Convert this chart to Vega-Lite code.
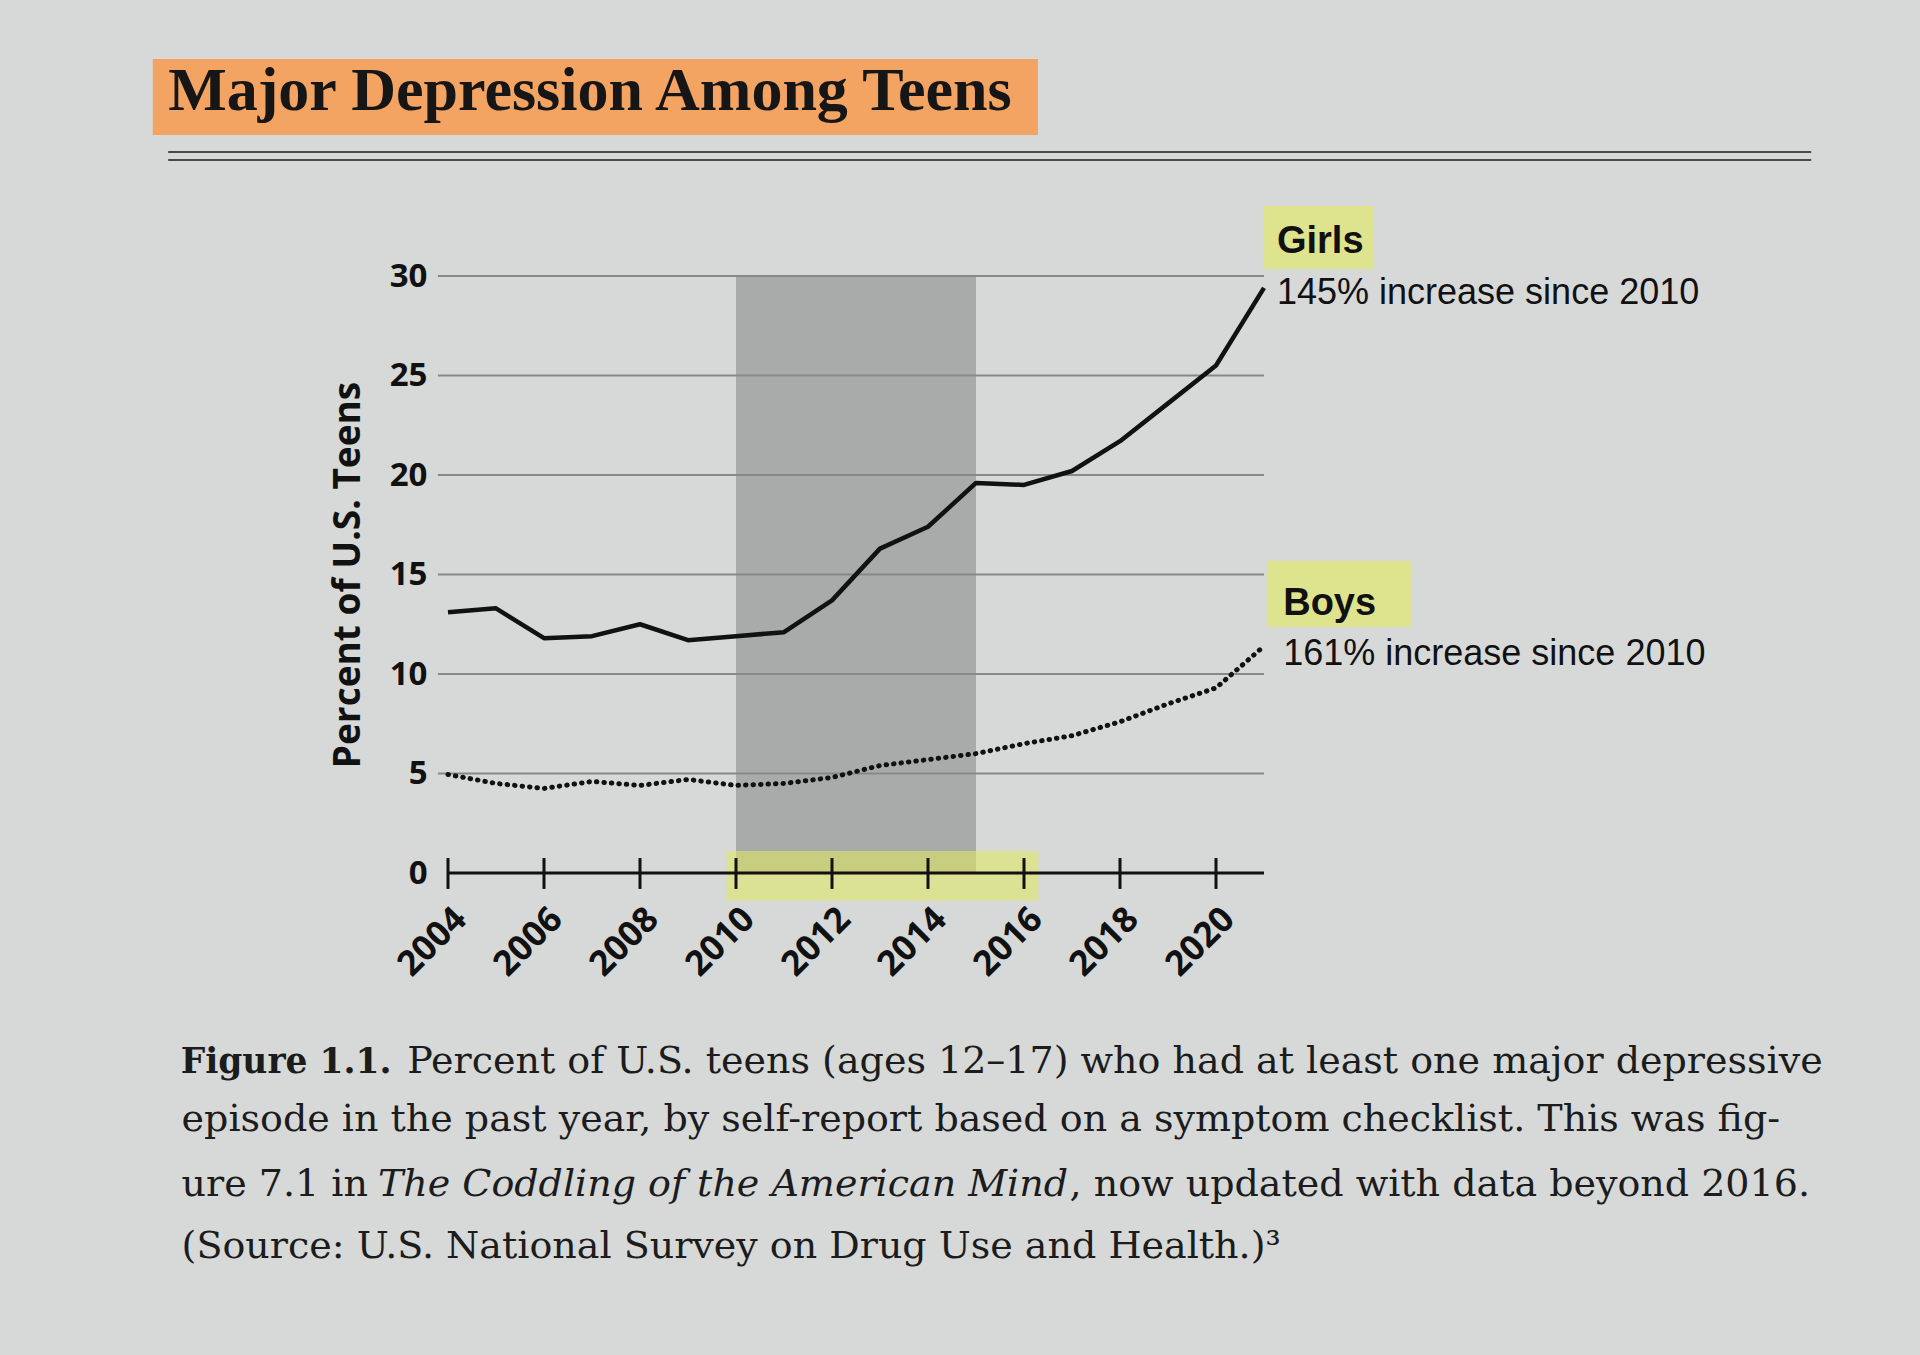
{
  "$schema": "https://vega.github.io/schema/vega-lite/v6.json",
  "autosize": "none",
  "width": 816,
  "height": 597,
  "padding": {"left": 448, "top": 276, "right": 656, "bottom": 482},
  "background": "#d6d9d8",
  "config": {"view": {"stroke": null}},
  "data": {"values": [{}]},
  "datasets": {
    "series": [
      {"year": 2004, "group": "Girls", "value": 13.1},
      {"year": 2005, "group": "Girls", "value": 13.3},
      {"year": 2006, "group": "Girls", "value": 11.8},
      {"year": 2007, "group": "Girls", "value": 11.9},
      {"year": 2008, "group": "Girls", "value": 12.5},
      {"year": 2009, "group": "Girls", "value": 11.7},
      {"year": 2010, "group": "Girls", "value": 11.9},
      {"year": 2011, "group": "Girls", "value": 12.1},
      {"year": 2012, "group": "Girls", "value": 13.7},
      {"year": 2013, "group": "Girls", "value": 16.3},
      {"year": 2014, "group": "Girls", "value": 17.4},
      {"year": 2015, "group": "Girls", "value": 19.6},
      {"year": 2016, "group": "Girls", "value": 19.5},
      {"year": 2017, "group": "Girls", "value": 20.2},
      {"year": 2018, "group": "Girls", "value": 21.7},
      {"year": 2019, "group": "Girls", "value": 23.6},
      {"year": 2020, "group": "Girls", "value": 25.5},
      {"year": 2021, "group": "Girls", "value": 29.4},
      {"year": 2004, "group": "Boys", "value": 4.95},
      {"year": 2005, "group": "Boys", "value": 4.5},
      {"year": 2006, "group": "Boys", "value": 4.25},
      {"year": 2007, "group": "Boys", "value": 4.6},
      {"year": 2008, "group": "Boys", "value": 4.4},
      {"year": 2009, "group": "Boys", "value": 4.7},
      {"year": 2010, "group": "Boys", "value": 4.4},
      {"year": 2011, "group": "Boys", "value": 4.5},
      {"year": 2012, "group": "Boys", "value": 4.8},
      {"year": 2013, "group": "Boys", "value": 5.4},
      {"year": 2014, "group": "Boys", "value": 5.7},
      {"year": 2015, "group": "Boys", "value": 6.0},
      {"year": 2016, "group": "Boys", "value": 6.5},
      {"year": 2017, "group": "Boys", "value": 6.9},
      {"year": 2018, "group": "Boys", "value": 7.6},
      {"year": 2019, "group": "Boys", "value": 8.5},
      {"year": 2020, "group": "Boys", "value": 9.3},
      {"year": 2021, "group": "Boys", "value": 11.4}
    ],
    "grid": [{"v": 5}, {"v": 10}, {"v": 15}, {"v": 20}, {"v": 25}, {"v": 30}],
    "ticks": [{"year": 2004}, {"year": 2006}, {"year": 2008}, {"year": 2010}, {"year": 2012}, {"year": 2014}, {"year": 2016}, {"year": 2018}, {"year": 2020}]
  },
  "layer": [
    {
      "mark": {"type": "rect", "color": "#f69f58", "opacity": 0.92},
      "encoding": {
        "x": {"datum": 1997.85, "type": "quantitative", "scale": {"domain": [2004, 2021], "nice": false, "zero": false}},
        "x2": {"datum": 2016.29},
        "y": {"datum": 40.9, "type": "quantitative", "scale": {"domain": [0, 30], "nice": false}},
        "y2": {"datum": 37.09}
      }
    },
    {
      "mark": {"type": "text", "text": "Major Depression Among Teens", "font": "Liberation Serif", "fontWeight": "bold", "fontSize": 62, "align": "left", "baseline": "alphabetic", "color": "#161616"},
      "encoding": {"x": {"datum": 1998.17, "type": "quantitative"}, "y": {"datum": 38.34, "type": "quantitative"}}
    },
    {
      "mark": {"type": "rule", "color": "#4a4a4a", "strokeWidth": 2.2},
      "encoding": {"x": {"datum": 1998.17, "type": "quantitative"}, "x2": {"datum": 2032.4}, "y": {"datum": 36.23, "type": "quantitative"}}
    },
    {
      "mark": {"type": "rule", "color": "#4a4a4a", "strokeWidth": 2.2},
      "encoding": {"x": {"datum": 1998.17, "type": "quantitative"}, "x2": {"datum": 2032.4}, "y": {"datum": 35.83, "type": "quantitative"}}
    },
    {
      "mark": {"type": "rect", "color": "#a4a5a5", "opacity": 0.9},
      "encoding": {"x": {"datum": 2010, "type": "quantitative"}, "x2": {"datum": 2015}, "y": {"datum": 0, "type": "quantitative"}, "y2": {"datum": 30}}
    },
    {
      "mark": {"type": "rect", "color": "#e2ea5c", "opacity": 0.55},
      "encoding": {"x": {"datum": 2009.8, "type": "quantitative"}, "x2": {"datum": 2016.3}, "y": {"datum": 1.1, "type": "quantitative"}, "y2": {"datum": -1.4}}
    },
    {
      "data": {"name": "grid"},
      "mark": {"type": "rule", "color": "#878989", "strokeWidth": 2},
      "encoding": {"x": {"datum": 2003.79, "type": "quantitative"}, "x2": {"datum": 2021}, "y": {"field": "v", "type": "quantitative"}}
    },
    {
      "mark": {"type": "rule", "color": "#111111", "strokeWidth": 3},
      "encoding": {"x": {"datum": 2004, "type": "quantitative"}, "x2": {"datum": 2021}, "y": {"datum": 0, "type": "quantitative"}}
    },
    {
      "data": {"name": "ticks"},
      "mark": {"type": "rule", "color": "#111111", "strokeWidth": 3},
      "encoding": {"x": {"field": "year", "type": "quantitative"}, "y": {"datum": 0.75, "type": "quantitative"}, "y2": {"datum": -0.8}}
    },
    {
      "data": {"name": "series"},
      "transform": [{"filter": "datum.group === 'Girls'"}],
      "mark": {"type": "line", "color": "#111111", "strokeWidth": 4.5, "strokeJoin": "round"},
      "encoding": {
        "x": {"field": "year", "type": "quantitative", "axis": {"values": [2004, 2006, 2008, 2010, 2012, 2014, 2016, 2018, 2020], "format": "d", "labelAngle": -45, "labelFont": "Open Sans", "labelFontWeight": "bold", "labelFontSize": 35, "labelColor": "#111111", "labelPadding": 28, "domain": false, "ticks": false, "grid": false, "title": null}},
        "y": {"field": "value", "type": "quantitative", "axis": {"values": [0, 5, 10, 15, 20, 25, 30], "labelFont": "Open Sans", "labelFontWeight": "bold", "labelFontSize": 33, "labelColor": "#111111", "labelPadding": 21, "domain": false, "ticks": false, "grid": false, "title": "Percent of U.S. Teens", "titleFont": "Open Sans", "titleFontWeight": "bold", "titleFontSize": 37, "titleColor": "#111111", "titlePadding": 22}}
      }
    },
    {
      "data": {"name": "series"},
      "transform": [{"filter": "datum.group === 'Boys'"}],
      "mark": {"type": "line", "color": "#111111", "strokeWidth": 5, "strokeCap": "round", "strokeDash": [0.5, 7]},
      "encoding": {"x": {"field": "year", "type": "quantitative"}, "y": {"field": "value", "type": "quantitative"}}
    },
    {
      "mark": {"type": "rect", "color": "#e2ea5c", "opacity": 0.6},
      "encoding": {"x": {"datum": 2021.0, "type": "quantitative"}, "x2": {"datum": 2023.29}, "y": {"datum": 33.52, "type": "quantitative"}, "y2": {"datum": 30.35}}
    },
    {
      "mark": {"type": "rect", "color": "#e2ea5c", "opacity": 0.6},
      "encoding": {"x": {"datum": 2021.06, "type": "quantitative"}, "x2": {"datum": 2024.06}, "y": {"datum": 15.68, "type": "quantitative"}, "y2": {"datum": 12.36}}
    },
    {
      "mark": {"type": "text", "text": "Girls", "font": "Liberation Sans", "fontWeight": "bold", "fontSize": 38, "align": "left", "baseline": "alphabetic", "color": "#111111"},
      "encoding": {"x": {"datum": 2021.27, "type": "quantitative"}, "y": {"datum": 31.16, "type": "quantitative"}}
    },
    {
      "mark": {"type": "text", "text": "145% increase since 2010", "font": "Liberation Sans", "fontSize": 36, "align": "left", "baseline": "alphabetic", "color": "#111111"},
      "encoding": {"x": {"datum": 2021.27, "type": "quantitative"}, "y": {"datum": 28.59, "type": "quantitative"}}
    },
    {
      "mark": {"type": "text", "text": "Boys", "font": "Liberation Sans", "fontWeight": "bold", "fontSize": 38, "align": "left", "baseline": "alphabetic", "color": "#111111"},
      "encoding": {"x": {"datum": 2021.4, "type": "quantitative"}, "y": {"datum": 12.96, "type": "quantitative"}}
    },
    {
      "mark": {"type": "text", "text": "161% increase since 2010", "font": "Liberation Sans", "fontSize": 36, "align": "left", "baseline": "alphabetic", "color": "#111111"},
      "encoding": {"x": {"datum": 2021.4, "type": "quantitative"}, "y": {"datum": 10.45, "type": "quantitative"}}
    },
    {
      "mark": {"type": "text", "text": "Figure 1.1.", "font": "DejaVu Serif", "fontWeight": "bold", "fontSize": 34.5, "align": "left", "baseline": "alphabetic", "color": "#1c1c1c"},
      "encoding": {"x": {"datum": 1998.43, "type": "quantitative"}, "y": {"datum": -10.05, "type": "quantitative"}}
    },
    {
      "mark": {"type": "text", "text": "Percent of U.S. teens (ages 12–17) who had at least one major depressive", "font": "DejaVu Serif", "fontSize": 38, "align": "left", "baseline": "alphabetic", "color": "#1c1c1c"},
      "encoding": {"x": {"datum": 2003.15, "type": "quantitative"}, "y": {"datum": -10.05, "type": "quantitative"}}
    },
    {
      "mark": {"type": "text", "text": "episode in the past year, by self-report based on a symptom checklist. This was fig-", "font": "DejaVu Serif", "fontSize": 38, "align": "left", "baseline": "alphabetic", "color": "#1c1c1c"},
      "encoding": {"x": {"datum": 1998.45, "type": "quantitative"}, "y": {"datum": -12.96, "type": "quantitative"}}
    },
    {
      "mark": {"type": "text", "text": "ure 7.1 in", "font": "DejaVu Serif", "fontSize": 38, "align": "left", "baseline": "alphabetic", "color": "#1c1c1c"},
      "encoding": {"x": {"datum": 1998.45, "type": "quantitative"}, "y": {"datum": -16.23, "type": "quantitative"}}
    },
    {
      "mark": {"type": "text", "text": "The Coddling of the American Mind", "font": "DejaVu Serif", "fontStyle": "italic", "fontSize": 38, "align": "left", "baseline": "alphabetic", "color": "#1c1c1c"},
      "encoding": {"x": {"datum": 2002.54, "type": "quantitative"}, "y": {"datum": -16.23, "type": "quantitative"}}
    },
    {
      "mark": {"type": "text", "text": ", now updated with data beyond 2016.", "font": "DejaVu Serif", "fontSize": 38, "align": "left", "baseline": "alphabetic", "color": "#1c1c1c"},
      "encoding": {"x": {"datum": 2016.95, "type": "quantitative"}, "y": {"datum": -16.23, "type": "quantitative"}}
    },
    {
      "mark": {"type": "text", "text": "(Source: U.S. National Survey on Drug Use and Health.)³", "font": "DejaVu Serif", "fontSize": 38, "align": "left", "baseline": "alphabetic", "color": "#1c1c1c"},
      "encoding": {"x": {"datum": 1998.45, "type": "quantitative"}, "y": {"datum": -19.35, "type": "quantitative"}}
    }
  ]
}
